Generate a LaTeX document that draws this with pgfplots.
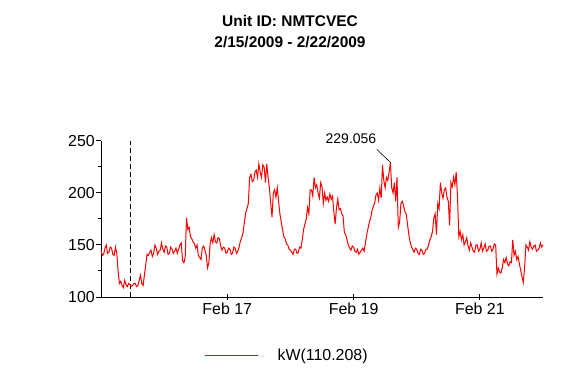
\documentclass[border=0pt]{standalone}
\usepackage{fontspec}
\setmainfont{Liberation Sans}
\usepackage{pgfplots}
\usepackage{pgfplotstable}
\pgfplotsset{compat=1.18}
\pgfplotstableread{
h kw
0 145
0.5 140
1 141
1.5 147
2 150
2.5 142
3 143
3.5 148
4 147
4.5 141
5 140
5.5 148
6 142
6.5 125
7 113
7.5 115
8 111
8.5 109
9 116
9.5 112
10 110
10.5 113
11 112
11.5 110.2
12 111
12.5 113
13 113
13.5 110
14 111
14.5 116
15 121
15.5 113
16 111
16.5 121
17 131
17.5 141
18 140
18.5 143
19 145
19.5 139
20 142
20.5 150
21 147
21.5 141
22 144
22.5 145
23 152
23.5 146
24 143
24.5 149
25 148
25.5 141
26 142
26.5 148
27 146
27.5 142
28 144
28.5 147
29 142
29.5 146
30 150
30.5 152
31 135
31.5 133
32 138
32.5 176
33 165
33.5 167
34 158
34.5 156
35 153
35.5 151
36 147
36.5 150
37 140
37.5 138
38 136
38.5 147
39 149
39.5 145
40 140
40.5 128
41 133
41.5 152
42 157
42.5 152
43 160
43.5 153
44 152
44.5 157
45 156
45.5 149
46 145
46.5 148
47 147
47.5 142
48 143
48.5 147
49 146
49.5 141
50 142
50.5 148
51 147
51.5 142
52 144
52.5 148
53 154
53.5 157
54 162
54.5 172
55 181
55.5 185
56 190
56.5 215
57 218
57.5 211
58 212
58.5 220
59 222
59.5 215
60 228
60.5 220
61 215
61.5 227
62 225
62.5 210
63 228
63.5 215
64 205
64.5 190
65 177
65.5 200
66 203
66.5 196
67 205
67.5 192
68 180
68.5 172
69 165
69.5 158
70 156
70.5 151
71 150
71.5 146
72 145
72.5 143
73 141
73.5 146
74 146
74.5 142
75 143
75.5 148
76 147
76.5 155
77 165
77.5 170
78 175
78.5 186
79 180
79.5 203
80 203
80.5 197
81 215
81.5 205
82 208
82.5 200
83 195
83.5 210
84 206
84.5 190
85 200
85.5 193
86 196
86.5 192
87 199
87.5 194
88 197
88.5 182
89 170
89.5 186
90 194
90.5 184
91 185
91.5 180
92 178
92.5 162
93 160
93.5 155
94 150
94.5 147
95 145
95.5 149
96 148
96.5 144
97 143
97.5 146
98 141
98.5 143
99 145
99.5 147
100 144
100.5 152
101 160
101.5 166
102 172
102.5 176
103 183
103.5 187
104 190
104.5 198
105 200
105.5 193
106 205
106.5 195
107 227
107.5 212
108 205
108.5 215
109 212
109.5 220
110 229.056
110.5 205
111 200
111.5 210
112 192
112.5 215
113 167
113.5 172
114 190
114.5 192
115 188
115.5 182
116 180
116.5 170
117 160
117.5 153
118 148
118.5 146
119 143
119.5 147
120 146
120.5 142
121 141
121.5 146
122 145
122.5 141
123 142
123.5 146
124 146
124.5 150
125 155
125.5 158
126 163
126.5 176
127 180
127.5 160
128 190
128.5 185
129 210
129.5 200
130 195
130.5 203
131 205
131.5 196
132 192
132.5 169
133 210
133.5 206
134 215
134.5 208
135 220
135.5 197
136 158
136.5 163
137 155
137.5 160
138 150
138.5 153
139 157
139.5 149
140 145
140.5 152
141 148
141.5 144
142 143
142.5 150
143 150
143.5 144
144 146
144.5 152
145 144
145.5 147
146 151
146.5 144
147 145
147.5 149
148 149
148.5 144
149 146
149.5 151
150 150
150.5 122
151 128
151.5 124
152 123
152.5 128
153 136
153.5 133
154 138
154.5 132
155 130
155.5 134
156 133
156.5 155
157 140
157.5 144
158 136
158.5 139
159 132
159.5 126
160 120
160.5 114
161 128
161.5 150
162 148
162.5 145
163 153
163.5 148
164 146
164.5 149
165 150
165.5 144
166 145
166.5 147
167 152
167.5 148
168 150
}\datatable
\begin{document}
\begin{tikzpicture}
\path[use as bounding box] (0bp,0bp) rectangle (580bp,380bp);
\node[font=\fontsize{15.5}{18}\selectfont\bfseries] at (290bp,359bp) {Unit ID: NMTCVEC};
\node[font=\fontsize{15.5}{18}\selectfont\bfseries] at (290bp,338bp) {2/15/2009 - 2/22/2009};
\begin{axis}[
  at={(101bp,83bp)}, anchor=south west,
  width=442bp, height=156bp, scale only axis,
  xmin=0, xmax=168, ymin=100, ymax=250,
  axis x line=bottom, axis y line=left,
  axis line style={-, black, line width=1bp},
  xtick={48,96,144}, xticklabels={Feb 17,Feb 19,Feb 21},
  ytick={100,150,200,250},
  minor ytick={125,175,225},
  tick style={black, line width=1bp},
  major tick length=5bp, minor tick length=3bp,
  xtick align=center, ytick align=outside,
  tick label style={font=\fontsize{16}{19}\selectfont},
  /pgf/number format/assume math mode=true,
  yticklabel style={inner xsep=1bp},
  xticklabel style={inner ysep=3bp},
  clip=false,
  legend style={at={(0.421,-0.372)}, anchor=center, draw=none, fill=none,
    font=\fontsize{16}{19}\selectfont},
  legend image code/.code={\draw[red, line width=1bp] (0bp,0bp) -- (53bp,0bp);},
  legend cell align=left,
]
\addplot[forget plot, black, dash pattern=on 5bp off 3bp, line width=1bp] coordinates {(11.4,100) (11.4,250)};
\addplot[red, line width=1bp, line join=miter] table[x=h, y=kw] {\datatable};
\addlegendentry{\hspace{17bp}kW(110.208)}
\draw[black, line width=0.6bp] (axis cs:104.8,242) -- (axis cs:110.1,229.2);
\node[font=\fontsize{14}{16}\selectfont] at (axis cs:95,252) {229.056};
\end{axis}
\end{tikzpicture}
\end{document}
